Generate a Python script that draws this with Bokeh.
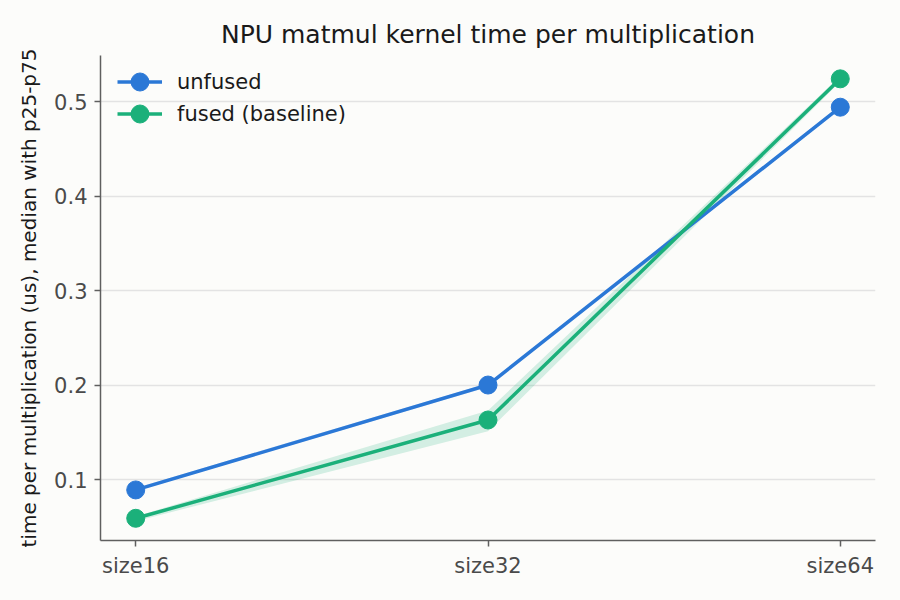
from bokeh.plotting import figure
from bokeh.models import Range1d, FixedTicker, Legend, LegendItem, ColumnDataSource
from bokeh.embed import file_html
from bokeh.resources import INLINE

categories = ["size16", "size32", "size64"]
unfused_med = [0.089, 0.200, 0.494]
unfused_p25 = [0.088, 0.198, 0.492]
unfused_p75 = [0.091, 0.202, 0.496]
fused_med = [0.059, 0.163, 0.524]
fused_p25 = [0.056, 0.151, 0.521]
fused_p75 = [0.061, 0.173, 0.527]
y_ticks = [0.1, 0.2, 0.3, 0.4, 0.5]
series_labels = ["unfused", "fused (baseline)"]

BLUE = "#2b78d6"
GREEN = "#1bb07a"
BG = "#fcfcfa"
FONT = "DejaVu Sans"

xs = list(range(len(categories)))

p = figure(width=884, height=584, output_backend="svg", toolbar_location=None,
           x_range=Range1d(-0.1, 2.1), y_range=Range1d(0.0355, 0.5487),
           min_border_left=100, min_border_right=9, min_border_top=55, min_border_bottom=44,
           background_fill_color=BG, border_fill_color=BG)
p.outline_line_color = None

p.title.text = "NPU matmul kernel time per multiplication"
p.title.align = "center"
p.title.text_font = FONT
p.title.text_font_size = "25px"
p.title.text_font_style = "normal"
p.title.text_color = "#1a1a1a"
p.title.standoff = 14

p.xgrid.grid_line_color = None
p.ygrid.grid_line_color = "#e3e3e3"
p.ygrid.grid_line_width = 1.5
p.ygrid.ticker = FixedTicker(ticks=y_ticks)

p.xaxis.ticker = FixedTicker(ticks=xs)
p.xaxis.major_label_overrides = {i: c for i, c in zip(xs, categories)}
p.yaxis.ticker = FixedTicker(ticks=y_ticks)
for ax in (p.xaxis[0], p.yaxis[0]):
    ax.axis_line_color = "#5f5f5f"
    ax.axis_line_width = 1.5
    ax.major_tick_line_color = "#5f5f5f"
    ax.major_tick_line_width = 1.5
    ax.major_tick_out = 6
    ax.major_tick_in = 0
    ax.minor_tick_line_color = None
    ax.major_label_text_font = FONT
    ax.major_label_text_font_size = "21px"
    ax.major_label_text_color = "#4a4a4a"
    ax.major_label_standoff = 7
p.yaxis.axis_label = "time per multiplication (us), median with p25-p75"
p.yaxis.axis_label_text_font = FONT
p.yaxis.axis_label_text_font_size = "20px"
p.yaxis.axis_label_text_font_style = "normal"
p.yaxis.axis_label_text_color = "#1a1a1a"
p.yaxis.axis_label_standoff = 10

src_u = ColumnDataSource(dict(x=xs, med=unfused_med, lo=unfused_p25, hi=unfused_p75))
src_f = ColumnDataSource(dict(x=xs, med=fused_med, lo=fused_p25, hi=fused_p75))

p.varea(x="x", y1="lo", y2="hi", source=src_u, fill_color=BLUE, fill_alpha=0.18)
p.varea(x="x", y1="lo", y2="hi", source=src_f, fill_color=GREEN, fill_alpha=0.18)

lu = p.line(x="x", y="med", source=src_u, line_color=BLUE, line_width=3.5)
su = p.scatter(x="x", y="med", source=src_u, size=18, fill_color=BLUE, line_color=BLUE)
lf = p.line(x="x", y="med", source=src_f, line_color=GREEN, line_width=3.5)
sf = p.scatter(x="x", y="med", source=src_f, size=18, fill_color=GREEN, line_color=GREEN)


def make_legend(label, renderers, loc):
    lg = Legend(items=[LegendItem(label=label, renderers=renderers)], location=loc)
    lg.background_fill_alpha = 0
    lg.border_line_color = None
    lg.label_text_font = FONT
    lg.label_text_font_size = "21px"
    lg.label_text_color = "#1a1a1a"
    lg.glyph_width = 45
    lg.glyph_height = 45
    lg.label_height = 26
    lg.label_standoff = 15
    lg.margin = 0
    lg.padding = 0
    return lg


p.add_layout(make_legend(series_labels[0], [lu, su], (17, 436)))
p.add_layout(make_legend(series_labels[1], [lf, sf], (17, 404)))

html = file_html(p, INLINE)
html = html.replace("<head>", "<head><style>html, body { background: %s; }</style>" % BG, 1)
open("out.html", "w").write(html)
